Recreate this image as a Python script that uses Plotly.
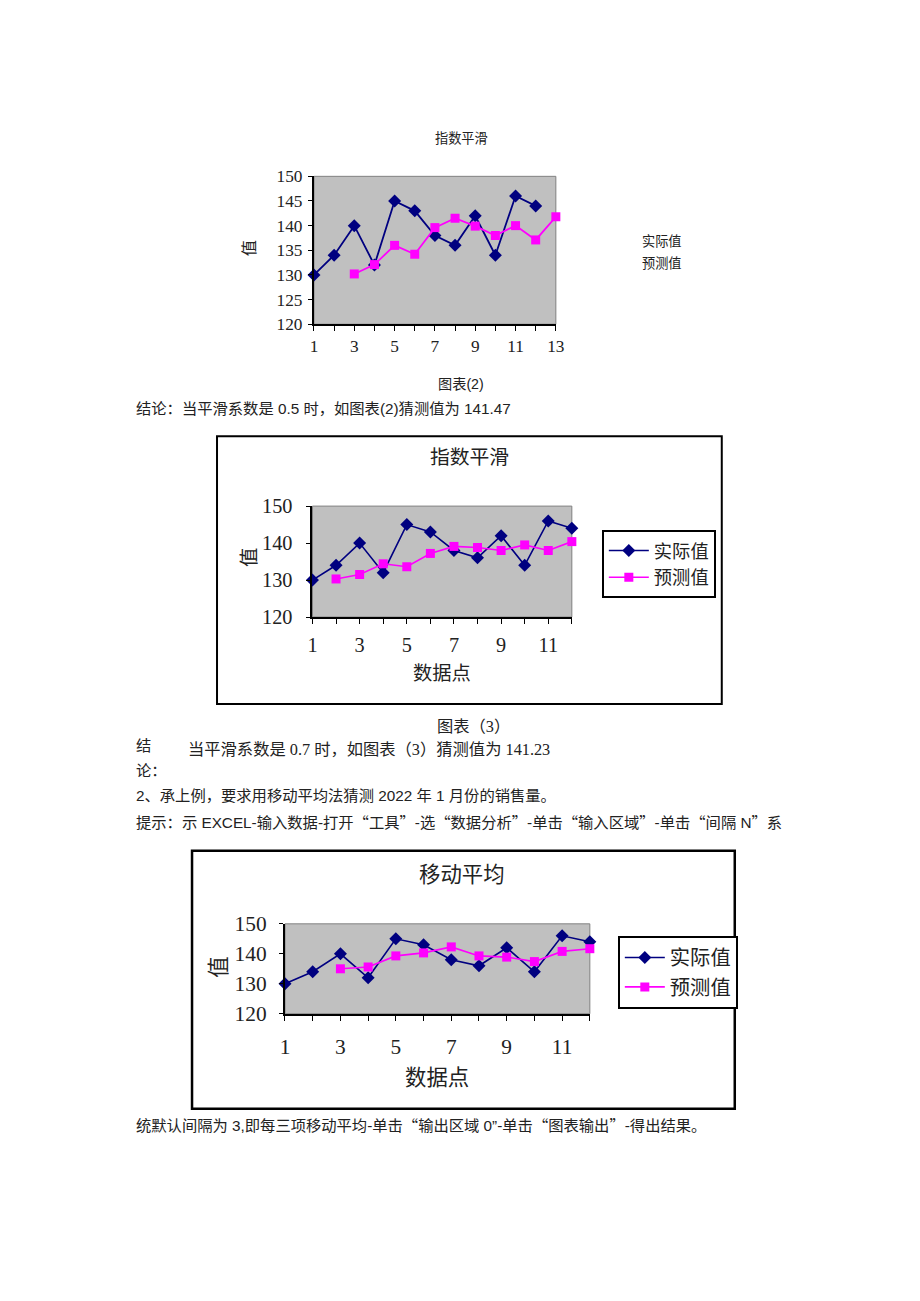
import plotly.graph_objects as go

# the html body has an 8px margin, so the figure is made 16px smaller than the window
OFF = 8
W, H = 920 - 2 * OFF, 1301 - 2 * OFF
# empirical correction of the photographed page (scale + offset)
SX, CX = 0.985, 6.0
SY, CY = 0.982, 11.7
K = 1.0 / 0.983  # font compensation


def px(x):
    t = (x - CX) / SX
    return (t - OFF) / W


def py(y):
    t = (y - CY) / SY
    return 1 - (t - OFF) / H


def fs(v):
    return round(v * K, 1)


# ---------------- data ----------------
actual_x = [1, 2, 3, 4, 5, 6, 7, 8, 9, 10, 11, 12]
actual = [130, 134, 140, 132, 145, 143, 138, 136, 142, 134, 146, 144]

pred1_x = [3, 4, 5, 6, 7, 8, 9, 10, 11, 12, 13]
pred1 = [130.2, 132.1, 136.0, 134.2, 139.6, 141.5, 139.9, 138.0, 140.0, 137.1, 141.8]

pred2_x = [2, 3, 4, 5, 6, 7, 8, 9, 10, 11, 12]
pred2 = [130.3, 131.5, 134.4, 133.6, 137.2, 139.1, 138.8, 138.0, 139.5, 138.0, 140.4]

pred3_x = [3, 4, 5, 6, 7, 8, 9, 10, 11, 12]
pred3 = [135.0, 135.6, 139.3, 140.3, 142.3, 139.3, 138.9, 137.4, 140.8, 141.7]

ticks13 = list(range(1, 14))
ticks13_text = [str(v) if v % 2 == 1 else "" for v in ticks13]
ticks12 = list(range(1, 13))
ticks12_text = [str(v) if v % 2 == 1 else "" for v in ticks12]
y_ticks1 = [120, 125, 130, 135, 140, 145, 150]
y_ticks2 = [120, 130, 140, 150]

name_actual = "实际值"
name_pred = "预测值"

NAVY = "#000080"
MAG = "#FF00FF"
SERIF = "Liberation Serif, Noto Sans CJK SC, serif"
SANS = "Liberation Sans, Noto Sans CJK SC, sans-serif"
TXT = "#222222"

fig = go.Figure()

# chart 1
fig.add_trace(go.Scatter(x=actual_x, y=actual, name=name_actual, mode="lines+markers",
                         line=dict(color=NAVY, width=1.8), marker=dict(symbol="diamond", size=10, color=NAVY),
                         xaxis="x", yaxis="y", showlegend=False, cliponaxis=False))
fig.add_trace(go.Scatter(x=pred1_x, y=pred1, name=name_pred, mode="lines+markers",
                         line=dict(color=MAG, width=1.8), marker=dict(symbol="square", size=9, color=MAG),
                         xaxis="x", yaxis="y", showlegend=False, cliponaxis=False))
# chart 2
fig.add_trace(go.Scatter(x=actual_x, y=actual, name=name_actual, mode="lines+markers",
                         line=dict(color=NAVY, width=1.6), marker=dict(symbol="diamond", size=10, color=NAVY),
                         xaxis="x2", yaxis="y2", legend="legend", cliponaxis=False))
fig.add_trace(go.Scatter(x=pred2_x, y=pred2, name=name_pred, mode="lines+markers",
                         line=dict(color=MAG, width=1.6), marker=dict(symbol="square", size=9, color=MAG),
                         xaxis="x2", yaxis="y2", legend="legend", cliponaxis=False))
# chart 3
fig.add_trace(go.Scatter(x=actual_x, y=actual, name=name_actual, mode="lines+markers",
                         line=dict(color=NAVY, width=1.6), marker=dict(symbol="diamond", size=10, color=NAVY),
                         xaxis="x3", yaxis="y3", legend="legend2", cliponaxis=False))
fig.add_trace(go.Scatter(x=pred3_x, y=pred3, name=name_pred, mode="lines+markers",
                         line=dict(color=MAG, width=1.6), marker=dict(symbol="square", size=9, color=MAG),
                         xaxis="x3", yaxis="y3", legend="legend2", cliponaxis=False))


def xax(domain, rng, tv, tt, size, standoff, anchor):
    return dict(domain=domain, range=rng, tickvals=tv, ticktext=tt, ticks="outside", ticklen=5,
                tickcolor="black", showline=True, linecolor="black", linewidth=2, showgrid=False,
                zeroline=False, tickfont=dict(family=SERIF, size=fs(size), color=TXT), anchor=anchor,
                ticklabelstandoff=standoff, fixedrange=True)


def yax(domain, tv, size, standoff, anchor):
    return dict(domain=domain, range=[120, 150], tickvals=tv, ticks="outside", ticklen=4,
                tickcolor="black", showline=True, linecolor="black", linewidth=2, showgrid=False,
                zeroline=False, tickfont=dict(family=SERIF, size=fs(size), color=TXT), anchor=anchor,
                ticklabelstandoff=standoff, fixedrange=True)


fig.update_layout(
    width=W, height=H, autosize=False,
    margin=dict(l=0, r=0, t=0, b=0),
    paper_bgcolor="white", plot_bgcolor="#C0C0C0",
    xaxis=xax([px(315), px(557)], [1, 13], ticks13, ticks13_text, 17, 0, "y"),
    yaxis=yax([py(324), py(176)], y_ticks1, 17, 2, "x"),
    xaxis2=xax([px(313.5), px(573)], [1, 12], ticks12, ticks12_text, 20, 4, "y2"),
    yaxis2=yax([py(617), py(506)], y_ticks2, 20, 10, "x2"),
    xaxis3=xax([px(286), px(591)], [1, 12], ticks12, ticks12_text, 21, 8, "y3"),
    yaxis3=yax([py(1014), py(924)], y_ticks2, 21, 8, "x3"),
    legend=dict(x=px(603), y=py(530), xanchor="left", yanchor="top", bgcolor="white",
                bordercolor="black", borderwidth=2, font=dict(family=SERIF, size=fs(18), color=TXT),
                itemwidth=40, tracegroupgap=0),
    legend2=dict(x=px(619), y=py(936), xanchor="left", yanchor="top", bgcolor="white",
                 bordercolor="black", borderwidth=2, font=dict(family=SERIF, size=fs(20), color=TXT),
                 itemwidth=40, tracegroupgap=0),
)

shapes = []
# chart frames
shapes.append(dict(type="rect", xref="paper", yref="paper", x0=px(218), x1=px(723), y0=py(704), y1=py(436),
                   line=dict(color="black", width=2), layer="below"))
shapes.append(dict(type="rect", xref="paper", yref="paper", x0=px(193), x1=px(736), y0=py(1109), y1=py(851),
                   line=dict(color="black", width=2.5), layer="below"))
# plot-area borders (top/right grey)
for xr, yr in (("x", "y"), ("x2", "y2"), ("x3", "y3")):
    shapes.append(dict(type="rect", xref=xr + " domain", yref=yr + " domain", x0=0, x1=1, y0=0, y1=1,
                       line=dict(color="#808080", width=1), layer="below"))
fig.update_layout(shapes=shapes)

ann = []


def text(x, y, s, size, family=SANS, xanchor="center", angle=0, color=TXT):
    ann.append(dict(x=px(x), y=py(y), xref="paper", yref="paper", text=s, showarrow=False,
                    xanchor=xanchor, yanchor="middle", textangle=angle,
                    font=dict(family=family, size=fs(size), color=color)))


CJK = "<span style=\"font-family:'Noto Sans CJK SC'\">%s</span>"
LQ = CJK % "“"
RQ = CJK % "”"

# chart 1 texts
text(463, 138, "指数平滑", 13)
text(250, 248, "值", 16, family=SERIF, angle=-90)
text(641, 241, "实际值", 13, xanchor="left")
text(641, 263, "预测值", 13, xanchor="left")
# chart 2 texts
text(471, 457, "指数平滑", 19.5, family=SERIF)
text(250, 558, "值", 19, family=SERIF, angle=-90)
text(443, 674, "数据点", 19, family=SERIF)
# chart 3 texts
text(463, 875, "移动平均", 21, family=SERIF)
text(220, 968, "值", 21, family=SERIF, angle=-90)
text(438, 1078, "数据点", 21, family=SERIF)

# document body text
text(462, 384, "图表(2)", 14)
text(135, 408, "结论：当平滑系数是 0.5 时，如图表(2)猜测值为 141.47", 15, xanchor="left")
text(475, 727, "图表（3）", 16, family=SERIF)
text(135, 746, "结", 15, xanchor="left")
text(135, 771, "论：", 15, xanchor="left")
text(187, 750, "当平滑系数是 0.7 时，如图表（3）猜测值为 141.23", 16, family=SERIF, xanchor="left")
text(135, 796, "2、承上例，要求用移动平均法猜测 2022 年 1 月份的销售量。", 15, xanchor="left")
text(135, 821, "提示：示 EXCEL-输入数据-打开" + LQ + "工具" + RQ + "-选" + LQ + "数据分析" + RQ
     + "-单击" + LQ + "输入区域" + RQ + "-单击" + LQ + "间隔 N" + RQ + "系", 15, xanchor="left")
text(135, 1124, "统默认间隔为 3,即每三项移动平均-单击" + LQ + "输出区域 0”-单击" + LQ + "图表输出" + RQ
     + "-得出结果。", 15, xanchor="left")

fig.update_layout(annotations=ann)

fig.write_html("out.html", config=dict(displayModeBar=False))
